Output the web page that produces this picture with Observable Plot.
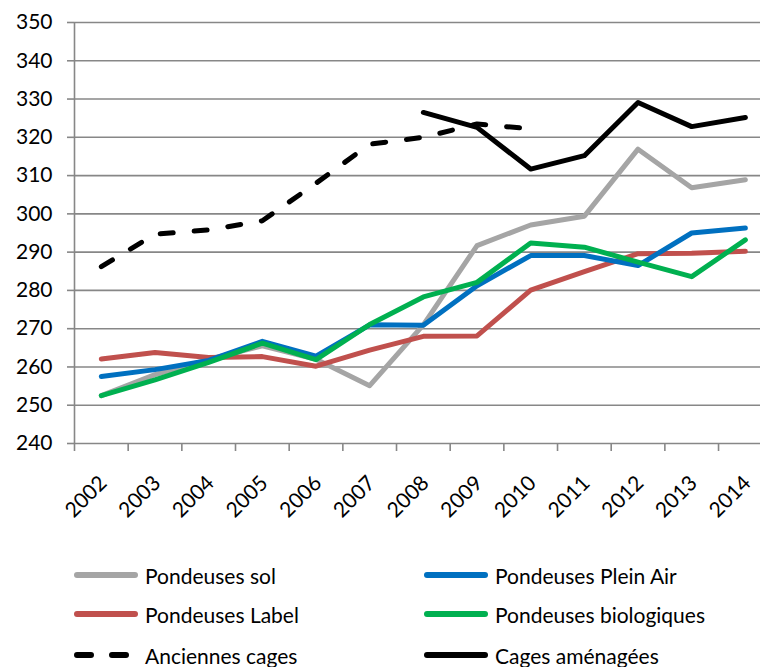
<!DOCTYPE html>
<html>
<head>
<meta charset="utf-8">
<script src="https://cdn.jsdelivr.net/npm/d3@7"></script>
<script src="https://cdn.jsdelivr.net/npm/@observablehq/plot@0.6"></script>
<style>
  html, body { margin: 0; padding: 0; background: #fff; overflow: hidden; }
  #wrap { position: relative; width: 760px; height: 667px; font-family: Lato, "Liberation Sans", sans-serif; }
  #chart { position: absolute; left: 0; top: 0; }
  .leg { position: absolute; display: flex; align-items: center; font-size: 21px; color: #000; white-space: nowrap; }
  .leg svg { margin-right: 5px; }
</style>
</head>
<body>
<div id="wrap"><div id="chart"></div></div>
<script>
const years = [2002, 2003, 2004, 2005, 2006, 2007, 2008, 2009, 2010, 2011, 2012, 2013, 2014];
const pondeusesSol = [252.5, 258, 262, 265.5, 262, 255.1, 271, 291.7, 297.1, 299.4, 316.9, 306.8, 308.9];
const pondeusesPleinAir = [257.5, 259.3, 261.7, 266.7, 262.8, 271, 270.9, 281.2, 289.1, 289.1, 286.5, 295, 296.3];
const pondeusesLabel = [262.1, 263.8, 262.5, 262.7, 260.2, 264.4, 268, 268.1, 280.1, 284.9, 289.6, 289.7, 290.2];
const pondeusesBio = [252.5, 256.6, 261.2, 266.2, 261.9, 271.1, 278.3, 282.1, 292.4, 291.3, 287.4, 283.6, 293.2];
const anciennesCages = [286.2, 294.7, 295.8, 298.2, 308, 318.2, 320, 323.5, 322.2, null, null, null, null];
const cagesAmenagees = [null, null, null, null, null, null, 326.5, 322.6, 311.7, 315.2, 329.1, 322.8, 325.2];
const yTicks = [240, 250, 260, 270, 280, 290, 300, 310, 320, 330, 340, 350];

const series = [
  {name: "Pondeuses sol", values: pondeusesSol, color: "#A5A5A5", dash: null},
  {name: "Pondeuses Label", values: pondeusesLabel, color: "#C0504D", dash: null},
  {name: "Pondeuses Plein Air", values: pondeusesPleinAir, color: "#0070C0", dash: null},
  {name: "Pondeuses biologiques", values: pondeusesBio, color: "#00B050", dash: null},
  {name: "Anciennes cages", values: anciennesCages, color: "#000000", dash: "13,21"},
  {name: "Cages aménagées", values: cagesAmenagees, color: "#000000", dash: null}
];

function rows(s) {
  return years.map((y, i) => ({year: y, value: s.values[i]})).filter(d => d.value != null);
}

const axisColor = "#878787";
const bounds = d3.range(2001.5, 2015, 1);

const plot = Plot.plot({
  width: 760,
  height: 535,
  marginLeft: 74,
  marginRight: 0,
  marginTop: 22,
  marginBottom: 92,
  style: {fontFamily: "Lato, 'Liberation Sans', sans-serif", fontSize: "21px", color: "#000", background: "#fff"},
  x: {type: "linear", domain: [2001.5, 2014.5], range: [74, 771.7]},
  y: {domain: [240, 350]},
  marks: [
    Plot.ruleY(yTicks, {stroke: axisColor, strokeWidth: 1.6, strokeOpacity: 1}),
    Plot.ruleX([2001.5], {y1: 240, y2: 350, stroke: axisColor, strokeWidth: 1.6}),
    Plot.axisY({ticks: yTicks, tickSize: 7, tickPadding: 15, stroke: axisColor, strokeWidth: 1.6, strokeOpacity: 1, label: null, fontSize: 21}),
    Plot.axisX({ticks: bounds, tickSize: 8, tickFormat: () => "", stroke: axisColor, strokeWidth: 1.6, strokeOpacity: 1, label: null}),
    Plot.axisX({ticks: years, tickSize: 0, tickFormat: d => String(d), tickRotate: -45, tickPadding: 36, label: null, fontSize: 21, dx: 2}),
    ...series.map(s => Plot.line(rows(s), {
      x: "year", y: "value", stroke: s.color, strokeWidth: 5,
      strokeDasharray: s.dash, strokeLinecap: "round", strokeLinejoin: "round", curve: "linear"
    }))
  ]
});
document.getElementById("chart").appendChild(plot);

// Legend (HTML, below the SVG)
const legendLayout = [
  {name: "Pondeuses sol", left: 77, top: 575},
  {name: "Pondeuses Plein Air", left: 427, top: 575},
  {name: "Pondeuses Label", left: 77, top: 614},
  {name: "Pondeuses biologiques", left: 427, top: 614},
  {name: "Anciennes cages", left: 77, top: 655},
  {name: "Cages aménagées", left: 427, top: 655}
];
const wrap = document.getElementById("wrap");
legendLayout.forEach(l => {
  const s = series.find(d => d.name === l.name);
  const div = document.createElement("div");
  div.className = "leg";
  div.style.left = (l.left - 3) + "px";
  div.style.top = (l.top - 14) + "px";
  const dash = s.dash ? 'stroke-dasharray="14,21"' : '';
  div.innerHTML = `<svg width="66" height="28"><line x1="3" y1="14" x2="61" y2="14" stroke="${s.color}" stroke-width="6" stroke-linecap="round" ${dash}/></svg><span>${s.name}</span>`;
  wrap.appendChild(div);
});
</script>
</body>
</html>
